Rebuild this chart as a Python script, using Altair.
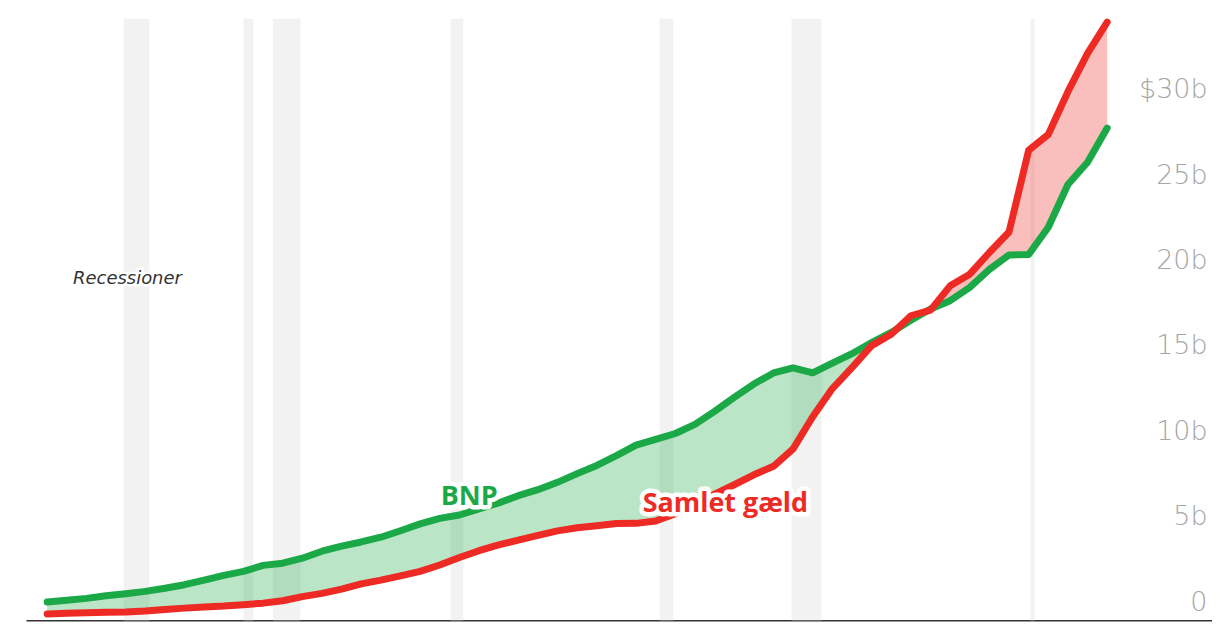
import altair as alt
import pandas as pd

# ---- data (trillions of dollars) ----
years = list(range(1970, 2025))
gdp = [1.07, 1.17, 1.28, 1.43, 1.55, 1.69, 1.87, 2.08, 2.35, 2.63,
       2.86, 3.21, 3.34, 3.63, 4.04, 4.34, 4.58, 4.86, 5.24, 5.64,
       5.96, 6.16, 6.52, 6.86, 7.29, 7.64, 8.07, 8.58, 9.06, 9.63,
       10.25, 10.58, 10.93, 11.46, 12.22, 13.04, 13.82, 14.47, 14.77, 14.48,
       15.05, 15.60, 16.25, 16.84, 17.55, 18.21, 18.70, 19.48, 20.53, 21.38,
       21.40, 23.0, 25.5, 26.8, 28.8]
debt = [0.37, 0.41, 0.44, 0.47, 0.48, 0.54, 0.63, 0.71, 0.78, 0.83,
        0.91, 1.00, 1.14, 1.38, 1.57, 1.82, 2.13, 2.35, 2.60, 2.86,
        3.23, 3.67, 4.07, 4.41, 4.69, 4.97, 5.23, 5.41, 5.53, 5.66,
        5.67, 5.81, 6.23, 6.78, 7.38, 7.93, 8.51, 9.01, 10.03, 11.91,
        13.56, 14.79, 16.07, 16.74, 17.82, 18.15, 19.57, 20.25, 21.52, 22.72,
        27.5, 28.43, 30.93, 33.17, 35.0]

rec_start = [1973.9, 1980.0, 1981.5, 1990.55, 2001.2, 2007.92, 2020.1]
rec_end = [1975.2, 1980.5, 1982.9, 1991.2, 2001.9, 2009.45, 2020.3]

y_ticks = [0, 5, 10, 15, 20, 25, 30]

series_labels = ["BNP", "Samlet gæld"]
series_colors = ["#1aa946", "#ee2a24"]
label_year = [1991.5, 2004.55]
label_value = [7.24, 6.83]

note_text = ["Recessioner"]
note_year = [1971.32]
note_value = [19.97]

# ---- layout ----
W, H = 1189, 603
X_DOMAIN = [1968.92, 2029.34]
Y_DOMAIN = [0, 35.2]
GREEN, RED = series_colors

df = pd.DataFrame({"year": years, "gdp": gdp, "debt": debt})
df["low"] = df[["gdp", "debt"]].min(axis=1)
rec = pd.DataFrame({"start": rec_start, "end": rec_end})
lab = pd.DataFrame({"text": series_labels, "color": series_colors,
                    "year": label_year, "value": label_value})
note = pd.DataFrame({"text": note_text, "year": note_year, "value": note_value})

xscale = alt.Scale(domain=X_DOMAIN, nice=False, zero=False)
yscale = alt.Scale(domain=Y_DOMAIN, nice=False, zero=True)
xaxis = alt.Axis(title=None, labels=False, ticks=False, grid=False,
                 domainColor="#333333", domainWidth=1.5)
yaxis = alt.Axis(title=None, orient="right", values=y_ticks, grid=False,
                 ticks=False, domain=False, offset=-5, labelPadding=0,
                 labelAlign="right", labelBaseline="alphabetic", labelOffset=-10,
                 labelFont="DejaVu Sans", labelFontWeight=200, labelFontSize=27,
                 labelColor="#a6a6a6",
                 labelExpr="datum.value == 30 ? '$30b' : datum.value == 0 ? '0' : datum.value + 'b'")

bands = alt.Chart(rec).mark_rect(color="#f2f2f2").encode(
    x=alt.X("start:Q", scale=xscale, axis=xaxis),
    x2="end:Q",
)

base = alt.Chart(df)
x_enc = alt.X("year:Q", scale=xscale, axis=xaxis)

area_green = base.mark_area(color=GREEN, opacity=0.3).encode(
    x=x_enc, y=alt.Y("gdp:Q", scale=yscale, axis=yaxis), y2="low:Q")
area_red = base.mark_area(color=RED, opacity=0.3).encode(
    x=x_enc, y=alt.Y("debt:Q", scale=yscale, axis=yaxis), y2="low:Q")

line_green = base.mark_line(color=GREEN, strokeWidth=7, strokeCap="round",
                            strokeJoin="round").encode(
    x=x_enc, y=alt.Y("gdp:Q", scale=yscale, axis=yaxis))
line_red = base.mark_line(color=RED, strokeWidth=7, strokeCap="round",
                          strokeJoin="round").encode(
    x=x_enc, y=alt.Y("debt:Q", scale=yscale, axis=yaxis))

lab_enc = dict(x=alt.X("year:Q", scale=xscale, axis=xaxis),
               y=alt.Y("value:Q", scale=yscale, axis=yaxis),
               text="text:N")
halo = alt.Chart(lab).mark_text(font="Open Sans", fontWeight="bold", fontSize=27,
                                align="center", baseline="middle", color="white",
                                stroke="white", strokeWidth=9,
                                strokeJoin="round").encode(**lab_enc)
labels = alt.Chart(lab).mark_text(font="Open Sans", fontWeight="bold", fontSize=27,
                                  align="center", baseline="middle").encode(
    color=alt.Color("color:N", scale=None), **lab_enc)

note_halo = alt.Chart(note).mark_text(font="DejaVu Sans", fontStyle="italic", fontSize=18,
                                      align="left", baseline="middle", color="white",
                                      stroke="white", strokeWidth=5).encode(**lab_enc)
note_txt = alt.Chart(note).mark_text(font="DejaVu Sans", fontStyle="italic", fontSize=18,
                                     align="left", baseline="middle",
                                     color="#333333").encode(**lab_enc)

chart = alt.layer(
    bands, area_green, area_red, line_green, line_red,
    halo, labels, note_halo, note_txt
).properties(
    width=W, height=H,
    background="white",
    padding={"left": 18, "top": 10, "right": 0, "bottom": 3},
    autosize=alt.AutoSizeParams(type="none"),
).configure_view(strokeWidth=0, stroke="transparent")

chart.save("out.html", embed_options={"renderer": "svg", "actions": False})
